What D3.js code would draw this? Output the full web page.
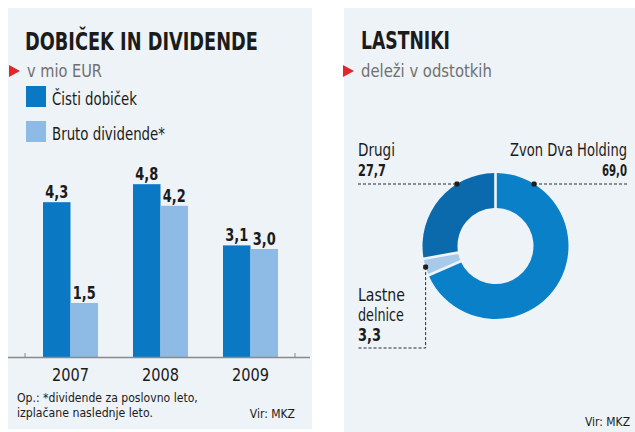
<!DOCTYPE html>
<html>
<head>
<meta charset="utf-8">
<script src="https://cdn.jsdelivr.net/npm/d3@7"></script>
<style>
  html, body { margin: 0; padding: 0; background: #ffffff; }
  svg { display: block; }
  text { font-family: "DejaVu Sans Condensed", "DejaVu Sans", sans-serif; fill: #1b1b1b; }
</style>
</head>
<body>
<svg id="chart" width="635" height="432"></svg>
<script>
// ---- data ----
const years = ["2007", "2008", "2009"];
const netProfit = [4.3, 4.8, 3.1];
const grossDividends = [1.5, 4.2, 3.0];
const seriesNames = ["Čisti dobiček", "Bruto dividende*"];
const owners = ["Zvon Dva Holding", "Lastne delnice", "Drugi"];
const ownerShares = [69.0, 3.3, 27.7];

const fmt = v => d3.format(".1f")(v).replace(".", ",");

const svg = d3.select("#chart");
const panelBg = "#eef3f7";
const darkBlue = "#0a78c3";
const lightBlue = "#8dbbe5";

// text helper: narrow horizontally to a target width to mimic the condensed face
function txt(parent, x, y, s, o = {}) {
  const t = parent.append("text").attr("x", 0).attr("y", 0)
    .attr("font-size", o.size || 18)
    .attr("font-weight", o.bold ? "bold" : "normal")
    .attr("text-anchor", o.anchor || "start")
    .text(s);
  if (o.fill) t.style("fill", o.fill);
  let k = 1;
  if (o.w) {
    const len = t.node().getComputedTextLength();
    if (len > o.w) k = o.w / len;
  }
  t.attr("transform", `translate(${x},${y}) scale(${k},1)`);
  return t;
}

// ---- panels ----
svg.append("rect").attr("x", 8).attr("y", 8).attr("width", 304).attr("height", 421).attr("fill", panelBg);
svg.append("rect").attr("x", 344).attr("y", 8).attr("width", 291).attr("height", 424).attr("fill", panelBg);

function triangle(x, y) {
  svg.append("path")
    .attr("d", d3.line()([[x, y - 6], [x + 11, y], [x, y + 6]]) + "Z")
    .attr("fill", "#e3262b");
}

// ================= LEFT: bar chart =================
txt(svg, 25, 50, "DOBIČEK IN DIVIDENDE", { size: 25, bold: true, w: 233 });
triangle(9, 71);
txt(svg, 27, 77, "v mio EUR", { size: 17, fill: "#707070", w: 75 });

const seriesColors = [darkBlue, lightBlue];
const legendY = [86, 121];
const legendW = [85, 113];
seriesNames.forEach((name, i) => {
  svg.append("rect").attr("x", 26).attr("y", legendY[i]).attr("width", 20).attr("height", 21).attr("fill", seriesColors[i]);
  txt(svg, 52, legendY[i] + 19, name, { size: 18, w: legendW[i] });
});

const x = d3.scaleBand().domain(years).range([25, 295]);
const xInner = d3.scaleBand().domain([0, 1]).range([18, 73]);
const y = d3.scaleLinear().domain([0, 5]).range([357, 177]);

const barData = [];
years.forEach((yr, i) => {
  barData.push({ year: yr, s: 0, v: netProfit[i] });
  barData.push({ year: yr, s: 1, v: grossDividends[i] });
});

svg.append("g").selectAll("rect").data(barData).join("rect")
  .attr("x", d => x(d.year) + xInner(d.s))
  .attr("width", xInner.bandwidth())
  .attr("y", d => y(d.v))
  .attr("height", d => y(0) - y(d.v))
  .attr("fill", d => seriesColors[d.s]);

const gVals = svg.append("g");
barData.forEach(d => {
  txt(gVals, x(d.year) + xInner(d.s) + xInner.bandwidth() / 2, y(d.v) - 4, fmt(d.v),
    { size: 17, bold: true, anchor: "middle", w: 23 });
});

// axis
svg.append("line").attr("x1", 8).attr("x2", 310).attr("y1", y(0) + 0.5).attr("y2", y(0) + 0.5)
  .attr("stroke", "#8a8a8a").attr("stroke-width", 1.5);
const range = x.range();
[range[0], range[1]].forEach(t => {
  svg.append("line").attr("x1", t).attr("x2", t).attr("y1", y(0) - 4).attr("y2", y(0))
    .attr("stroke", "#8a8a8a").attr("stroke-width", 1);
});
const gYears = svg.append("g");
years.forEach(d => txt(gYears, x(d) + x.bandwidth() / 2 + 0.5, 381, d, { size: 18, anchor: "middle", w: 37 }));

txt(svg, 17, 402, "Op.: *dividende za poslovno leto,", { size: 13, w: 181 });
txt(svg, 17, 417, "izplačane naslednje leto.", { size: 13, w: 136 });
txt(svg, 295, 418, "Vir: MKZ", { size: 12, anchor: "end", w: 46 });

// ================= RIGHT: donut =================
txt(svg, 361, 49, "LASTNIKI", { size: 25, bold: true, w: 89 });
triangle(343, 71);
txt(svg, 361, 77, "deleži v odstotkih", { size: 17, fill: "#707070", w: 131 });

const cx = 495.5, cy = 246, rOuter = 73, rInner = 38;
const donutColors = ["#0a80c8", "#a7c9ea", "#0a6aab"];
const pie = d3.pie().sort(null).value(d => d).padAngle(0.032);
const arcs = pie(ownerShares);
const arc = d3.arc().innerRadius(rInner).outerRadius(rOuter);
const gDonut = svg.append("g").attr("transform", `translate(${cx},${cy})`);
gDonut.selectAll("path").data(arcs).join("path")
  .attr("d", arc)
  .attr("fill", (d, i) => donutColors[i]);

const dashStyle = sel => sel.attr("stroke", "#2a2a2a").attr("stroke-width", 1).attr("stroke-dasharray", "3,2").attr("fill", "none");

const leaderY = 184;
const dxTop = Math.sqrt(rOuter * rOuter - (leaderY - cy) * (leaderY - cy));
svg.append("line").attr("x1", 358).attr("x2", cx - dxTop).attr("y1", leaderY).attr("y2", leaderY).call(dashStyle);
svg.append("line").attr("x1", cx + dxTop).attr("x2", 628).attr("y1", leaderY).attr("y2", leaderY).call(dashStyle);
const aMid = (arcs[1].startAngle + arcs[1].endAngle) / 2;
const lx = cx + rOuter * Math.sin(aMid), ly = cy - rOuter * Math.cos(aMid);
svg.append("path").attr("d", d3.line()([[lx, ly], [lx, 348], [358, 348]])).call(dashStyle);

[[cx - dxTop, leaderY], [cx + dxTop, leaderY], [lx, ly]].forEach(p => {
  svg.append("rect").attr("x", p[0] - 2.5).attr("y", p[1] - 2.5).attr("width", 5).attr("height", 5)
    .attr("rx", 1.5).attr("fill", "#1e1e1e");
});

// labels
txt(svg, 358, 156, owners[2], { size: 17, w: 37 });
txt(svg, 358, 176, fmt(ownerShares[2]), { size: 16, bold: true, w: 28 });
txt(svg, 627, 156, owners[0], { size: 17, anchor: "end", w: 117 });
txt(svg, 627, 176, fmt(ownerShares[0]), { size: 16, bold: true, anchor: "end", w: 25 });
const lastneWords = owners[1].split(" ");
txt(svg, 358, 301, lastneWords[0], { size: 18, w: 47 });
txt(svg, 358, 321, lastneWords[1], { size: 18, w: 46 });
txt(svg, 358, 341, fmt(ownerShares[1]), { size: 17, bold: true, w: 23 });

txt(svg, 630, 426, "Vir: MKZ", { size: 12, anchor: "end", w: 45 });
</script>
</body>
</html>
